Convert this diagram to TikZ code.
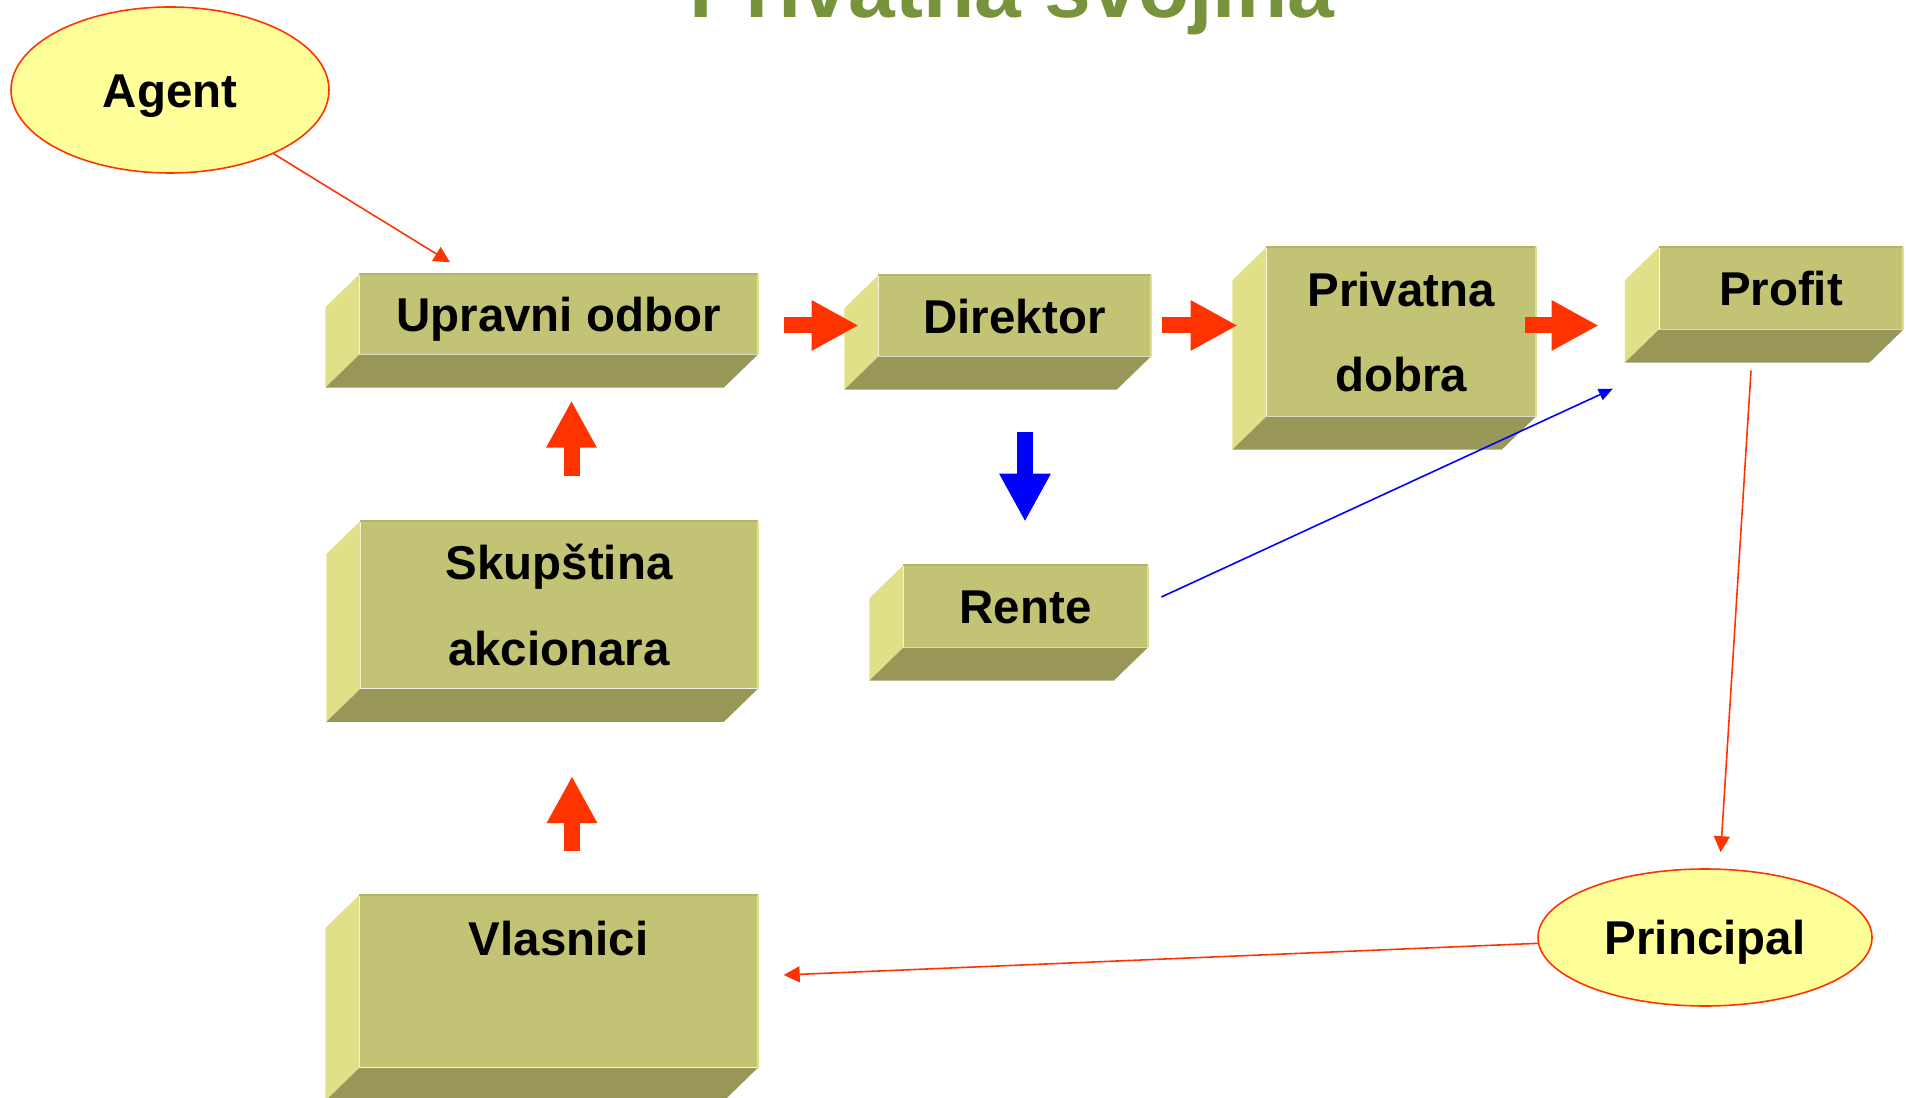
\documentclass[tikz,border=0pt]{standalone}
\usepackage{fontspec}
\setmainfont{Liberation Sans}
\usepackage{tikz}
\usetikzlibrary{positioning,arrows.meta,calc,shapes.geometric}
\definecolor{boxFront}{HTML}{C3C376}
\definecolor{boxSide}{HTML}{E0E088}
\definecolor{boxBottom}{HTML}{999757}
\definecolor{boxRim}{HTML}{B3B36B}
\definecolor{ovalFill}{HTML}{FFFF99}
\definecolor{arrowRed}{HTML}{FF3300}
\definecolor{arrowBlue}{HTML}{0000FF}
\definecolor{titleGreen}{HTML}{77933C}
\newcommand{\boxsides}[1]{%
  \fill[boxSide] (#1.north west) -- (#1.south west) -- ++(-0.34,-0.33)
    -- ($(#1.north west)+(-0.34,-0.33)$) -- cycle;
  \fill[boxBottom] (#1.south west) -- (#1.south east) -- ++(-0.34,-0.33)
    -- ($(#1.south west)+(-0.34,-0.33)$) -- cycle;
  \draw[boxRim,line width=0.5pt] (#1.north west) -- (#1.north east);
  \draw[boxSide,line width=0.5pt] (#1.north east) -- (#1.south east);
}

\begin{document}
\begin{tikzpicture}[
          every node/.style={font=\fontsize{13.5pt}{24.4pt}\selectfont\bfseries,
                             text=black,align=center},
          block/.style={fill=boxFront,inner sep=0pt},
          oneline/.style={text height=9.7pt,text depth=0pt},
          oval/.style={ellipse,draw=arrowRed,line width=0.45pt,fill=ovalFill,
                       inner sep=0pt,text height=9.7pt,text depth=0pt},
          fatred/.style={arrowRed,line width=0.16cm,
                         -{Triangle[length=0.47cm,width=0.47cm]}},
          fatblue/.style={arrowBlue,line width=0.16cm,
                          -{Triangle[length=0.48cm,width=0.48cm]}},
          link/.style={arrowRed,line width=0.45pt,
                       -{Triangle[length=0.16cm,width=0.16cm]}},
          bluelink/.style={arrowBlue,line width=0.45pt,
                           -{Triangle[length=0.14cm,width=0.12cm]}},
        ]
        \useasboundingbox (0,0) rectangle (19.06,10.97);
        \clip (0,0) rectangle (19.06,10.97);
        \node[anchor=base,text=titleGreen,
              font=\fontsize{23.9pt}{28pt}\selectfont\bfseries] (title) at (10.12,10.793) {Privatna svojina};
        \node[block,oneline,minimum width=3.97cm,minimum height=0.79cm] (upravni) at (5.585,7.825) {Upravni odbor};
        \node[block,oneline,minimum width=2.71cm,minimum height=0.80cm] (direktor) at (10.145,7.81) {Direktor};
        \node[block,minimum width=2.68cm,minimum height=1.68cm] (privatna) at (14.01,7.65) {Privatna\\dobra};
        \node[block,oneline,minimum width=2.43cm,minimum height=0.81cm] (profit) at (17.81,8.085) {Profit};
        \node[block,oneline,minimum width=2.43cm,minimum height=0.81cm] (rente) at (10.255,4.905) {Rente};
        \node[block,minimum width=3.96cm,minimum height=1.665cm] (skupstina) at (5.59,4.92) {Skupština\\akcionara};
        \node[block,minimum width=3.97cm,minimum height=1.67cm] (vlasnici) at (5.585,1.155) {\strut Vlasnici\\\strut};
        \boxsides{upravni}
        \boxsides{direktor}
        \boxsides{privatna}
        \boxsides{profit}
        \boxsides{rente}
        \boxsides{skupstina}
        \boxsides{vlasnici}
        \node[oval,minimum width=3.18cm,minimum height=1.66cm] (agent) at (1.70,10.07) {Agent};
        \node[oval,minimum width=3.34cm,minimum height=1.37cm] (principal) at (17.05,1.595) {Principal};
        \draw[fatred] ($(upravni.east)+(0.26,-0.11)$) -- +(0.75,0);
        \draw[fatred] ($(direktor.east)+(0.11,-0.095)$) -- +(0.76,0);
        \draw[fatred] ($(privatna.east)+(-0.11,0.065)$) -- +(0.74,0);
        \draw[fatblue] ($(direktor.south)+(0.105,-0.75)$) -- +(0,-0.90);
        \draw[fatred] ($(skupstina.north)+(0.125,0.455)$) -- +(0,0.75);
        \draw[fatred] ($(vlasnici.north)+(0.135,0.44)$) -- +(0,0.75);
        \draw[link] (agent) -- ($(upravni.north)+(-1.085,0.12)$);
        \draw[bluelink] ($(rente.east)+(0.137,0.095)$) -- ($(profit.south west)+(-0.46,-0.59)$);
        \draw[link] ($(profit.south)+(-0.30,-0.41)$) -- ($(principal.north)+(0.157,0.16)$);
        \draw[link] (principal.182) -- ($(vlasnici.east)+(0.26,0.065)$);
      \end{tikzpicture}
\end{document}
